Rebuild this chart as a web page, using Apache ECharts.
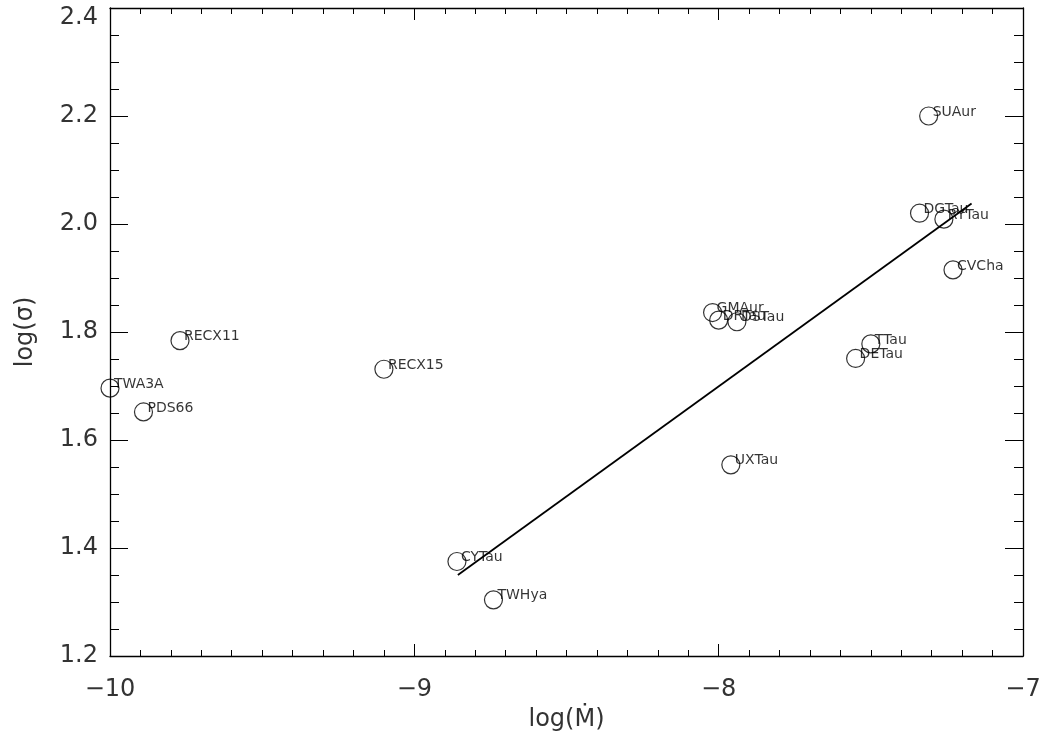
<!DOCTYPE html>
<html>
<head>
<meta charset="utf-8">
<script src="https://cdn.jsdelivr.net/npm/echarts@6/dist/echarts.min.js"></script>
<style>
  html, body { margin: 0; padding: 0; background: #fff; }
  #chart { width: 1048px; height: 743px; }
</style>
</head>
<body>
<div id="chart"></div>
<script>
// log(sigma) vs log(Mdot) scatter with fitted line

var stars = ['SUAur', 'DGTau', 'RYTau', 'CVCha', 'GMAur', 'DRTau', 'DSTau', 'TTau', 'DETau',
             'UXTau', 'CYTau', 'TWHya', 'RECX11', 'TWA3A', 'PDS66', 'RECX15']
var logMdot = [-7.31, -7.34, -7.26, -7.23, -8.02, -8.00, -7.94, -7.50, -7.55,
               -7.96, -8.86, -8.74, -9.77, -10.0, -9.89, -9.10]
var logSigma = [2.200, 2.020, 2.009, 1.915, 1.836, 1.822, 1.819, 1.778, 1.751,
                1.554, 1.375, 1.304, 1.784, 1.696, 1.652, 1.731]

// fitted line end points
var fitX = [-8.857, -7.169]
var fitY = [1.350, 2.038]

var pts = []
for (var i = 0; i < stars.length; i++) {
  pts.push({ name: stars[i], value: [logMdot[i], logSigma[i]] })
}
var fit = []
for (var j = 0; j < fitX.length; j++) {
  fit.push([fitX[j], fitY[j]])
}

var lblFont = { fontFamily: 'DejaVu Sans', fontSize: 24, color: '#333' }

function xAx (pos, showLabels) {
  return {
    type: 'value', position: pos, min: -10, max: -7, interval: 1,
    axisLine: { show: true, onZero: false, lineStyle: { color: '#000', width: 1.3 } },
    axisTick: { show: true, inside: true, length: 12, lineStyle: { color: '#000' } },
    minorTick: { show: true, splitNumber: 10, length: 6, lineStyle: { color: '#000' } },
    splitLine: { show: false },
    axisLabel: {
      show: showLabels, margin: 22, fontFamily: 'DejaVu Sans', fontSize: 24, color: '#333',
      formatter: function (v) { return String(v).replace('-', '\u2212') }
    },
    name: showLabels ? 'log(\u1E40)' : '',
    nameLocation: 'middle', nameGap: 52,
    nameTextStyle: lblFont
  }
}

function yAx (pos, showLabels) {
  return {
    type: 'value', position: pos, min: 1.2, max: 2.4, interval: 0.2,
    axisLine: { show: true, onZero: false, lineStyle: { color: '#000', width: 1.3 } },
    axisTick: { show: true, inside: true, length: 18, lineStyle: { color: '#000' } },
    minorTick: { show: true, splitNumber: 4, length: 9, lineStyle: { color: '#000' } },
    splitLine: { show: false },
    axisLabel: {
      show: showLabels, margin: 12, fontFamily: 'DejaVu Sans', fontSize: 24, color: '#333',
      formatter: function (v) {
        // top label sits a bit lower, as in the original plot
        return v > 2.35 ? '{t|' + v.toFixed(1) + '}' : v.toFixed(1)
      },
      rich: { t: { fontFamily: 'DejaVu Sans', fontSize: 24, color: '#333', padding: [20, 0, 0, 0] } }
    },
    name: showLabels ? 'log(\u03C3)' : '',
    nameLocation: 'middle', nameGap: 72, nameRotate: 90,
    nameTextStyle: lblFont
  }
}

var chart = echarts.init(document.getElementById('chart'))

var option = {
  animation: false,
  backgroundColor: '#fff',
  grid: { left: 110, right: 25, top: 8, bottom: 87 },
  xAxis: [xAx('bottom', true), xAx('top', false)],
  yAxis: [yAx('left', true), yAx('right', false)],
  series: [
    {
      type: 'line',
      data: fit,
      symbol: 'none',
      lineStyle: { color: '#000', width: 1.8 },
      z: 3
    },
    {
      type: 'scatter',
      data: pts,
      symbol: 'circle',
      symbolSize: 18,
      itemStyle: { color: 'rgba(0,0,0,0)', borderColor: '#000', borderWidth: 1.2 },
      label: {
        show: true,
        position: 'inside',
        align: 'left',
        verticalAlign: 'middle',
        offset: [4, -4],
        formatter: '{b}',
        fontFamily: 'DejaVu Sans',
        fontSize: 14,
        color: '#000'
      },
      z: 4
    }
  ]
}

chart.setOption(option)
</script>
</body>
</html>
